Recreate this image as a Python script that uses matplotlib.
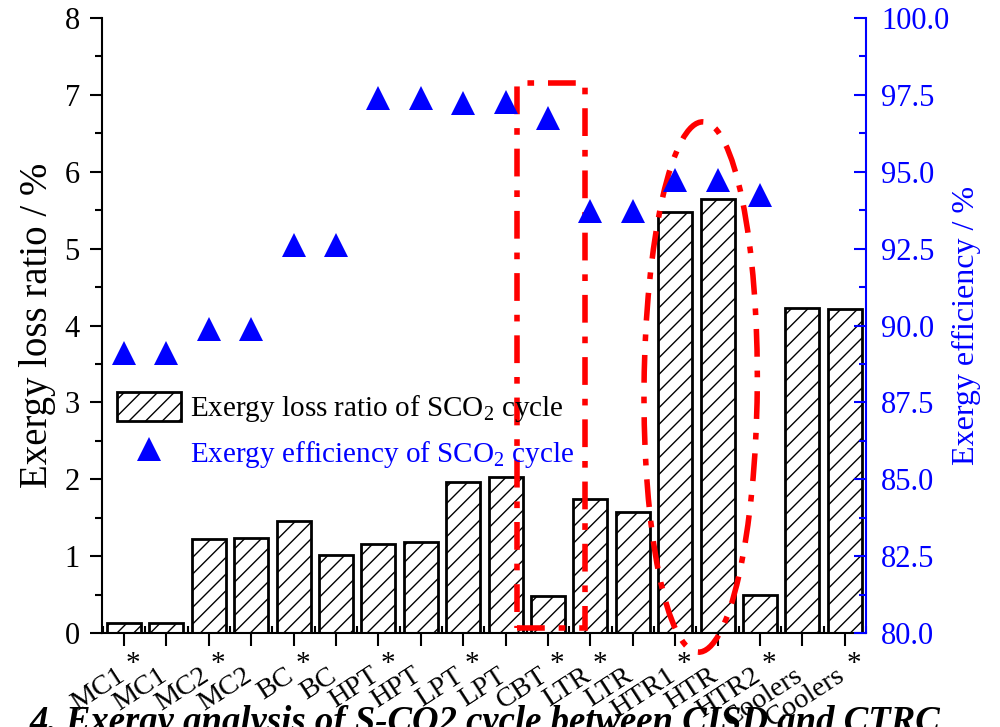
import numpy as np
import matplotlib
matplotlib.use('Agg')
import matplotlib.pyplot as plt
from matplotlib.patches import Rectangle, Ellipse
from matplotlib.ticker import MultipleLocator
import matplotlib.transforms as mtransforms

plt.rcParams['font.family'] = ['Liberation Serif', 'DejaVu Serif']
plt.rcParams['mathtext.fontset'] = 'custom'
plt.rcParams['mathtext.rm'] = 'Liberation Serif'
plt.rcParams['hatch.linewidth'] = 1.0

# components (star = CISD case)
names = ['MC1', 'MC1', 'MC2', 'MC2', 'BC', 'BC', 'HPT', 'HPT', 'LPT', 'LPT',
         'CBT', 'LTR', 'LTR', 'HTR1', 'HTR', 'HTR2', 'Coolers', 'Coolers']
starred = [1, 0, 1, 0, 1, 0, 1, 0, 1, 0, 1, 1, 0, 1, 0, 1, 0, 1]
loss_ratio = [0.13, 0.13, 1.22, 1.23, 1.46, 1.01, 1.16, 1.18, 1.97, 2.03,
              0.48, 1.74, 1.57, 5.48, 5.64, 0.49, 4.23, 4.21]
efficiency = [89.12, 89.12, 89.88, 89.88, 92.61, 92.61, 97.40, 97.40, 97.24, 97.26,
              96.76, 93.72, 93.72, 94.74, 94.74, 94.26, np.nan, np.nan]

x = np.arange(len(names))

fig = plt.figure(figsize=(10, 7.27), dpi=100)
ax = fig.add_axes([0.102, 0.1293, 0.764, 0.8459])
ax2 = ax.twinx()

bars = ax.bar(x, loss_ratio, 0.8, color='white', edgecolor='black', hatch='//',
              linewidth=2, label='Exergy loss ratio of SCO$_2$ cycle', zorder=2)
pts, = ax2.plot(x, efficiency, '^', color='blue', markersize=17, markeredgewidth=0,
                label='Exergy efficiency of SCO$_2$ cycle')

ax.set_xlim(-0.52, 17.5)
ax.set_ylim(0, 8)
ax2.set_ylim(80, 100)

# left axis
ax.yaxis.set_major_locator(MultipleLocator(1))
ax.yaxis.set_minor_locator(MultipleLocator(0.5))
ax.tick_params(axis='y', which='major', direction='out', length=9, width=1.5, labelsize=22, pad=7)
ax.tick_params(axis='y', which='minor', direction='out', length=5, width=1.5)
ax.set_ylabel('Exergy loss ratio / %', fontsize=28, labelpad=6)

# bottom axis
ax.set_xticks(x)
ax.set_xticklabels([])
ax.xaxis.set_minor_locator(MultipleLocator(1, offset=0.5))
ax.tick_params(axis='x', which='major', direction='out', length=9, width=1.5)
ax.tick_params(axis='x', which='minor', direction='in', length=5, width=1.5)
ax.spines['top'].set_visible(False)
ax.spines['right'].set_visible(False)
for s in ['left', 'bottom']:
    ax.spines[s].set_linewidth(1.5)

trans = ax.get_xaxis_transform()
for i in range(len(names)):
    off = mtransforms.offset_copy(trans, fig=fig, x=5, y=-30, units='dots')
    ax.text(x[i], 0, names[i], transform=off, rotation=33, ha='right', va='top',
            fontsize=20.5)
    if starred[i]:
        off2 = mtransforms.offset_copy(trans, fig=fig, x=9, y=-31, units='dots')
        ax.text(x[i], 0, '*', transform=off2, ha='center', va='center', fontsize=21)

# right axis
ax2.yaxis.set_major_locator(MultipleLocator(2.5))
ax2.yaxis.set_minor_locator(MultipleLocator(1.25))
ax2.yaxis.set_major_formatter('{x:.1f}')
ax2.tick_params(axis='y', which='major', direction='in', length=9, width=1.5,
                labelsize=22, colors='blue', pad=11)
ax2.tick_params(axis='y', which='minor', direction='in', length=5, width=1.5, colors='blue')
ax2.spines['right'].set_color('blue')
ax2.spines['right'].set_linewidth(1.5)
ax2.spines['top'].set_visible(False)
ax2.spines['left'].set_visible(False)
ax2.spines['bottom'].set_visible(False)
ax2.set_ylabel('Exergy efficiency / %', fontsize=23, color='blue', labelpad=2)

# red marks
dd = (0, (5, 2.5, 1.2, 2.5))
ax.add_patch(Rectangle((9.26, 0.065), 1.61, 7.09, fill=False, edgecolor='red',
                       linewidth=4, linestyle=dd, clip_on=False, zorder=5))
ax.add_patch(Ellipse((13.6, 3.2), 2.67, 6.9, angle=-1, fill=False, edgecolor='red',
                     linewidth=4, linestyle=dd, clip_on=False, zorder=5))

leg = ax.legend([bars, pts], [bars.get_label(), pts.get_label()], loc='upper left',
                bbox_to_anchor=(-0.015, 0.435), frameon=False, fontsize=21,
                handlelength=2.2, handleheight=1.15, handletextpad=0.3, labelspacing=0.45)
leg.get_texts()[1].set_color('blue')

fig.text(0.03, -0.018, '4. Exergy analysis of S-CO2 cycle between CISD and CTRC',
         fontsize=26.5, fontweight='bold', fontstyle='italic', va='bottom')

fig.savefig('out.png', dpi=100)
